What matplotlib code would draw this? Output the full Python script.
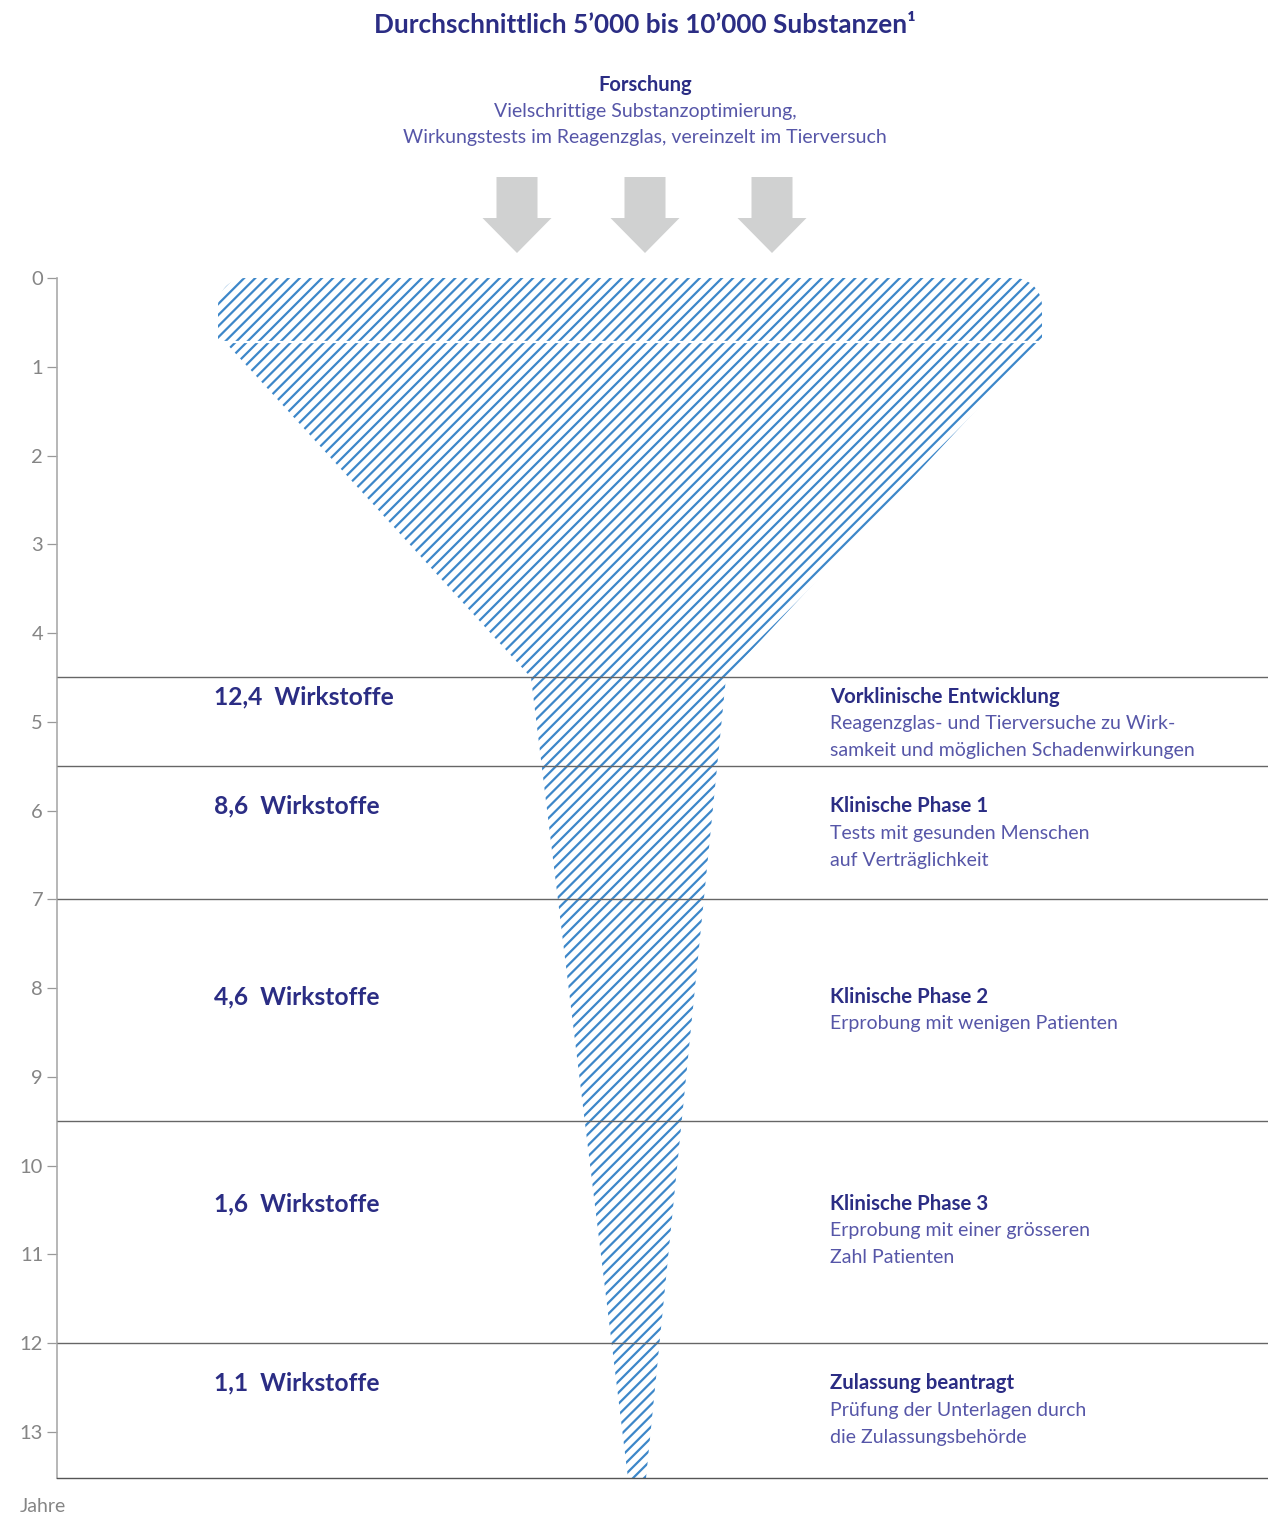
import numpy as np
import matplotlib.pyplot as plt
from matplotlib.patches import Polygon

plt.rcParams['font.family'] = ['Lato', 'DejaVu Sans']
plt.rcParams['hatch.linewidth'] = 1.6

# funnel outline (x in width units, y in years)
top_left, top_right = 218, 1042
top_end = 0.72
corner_r = 28
funnel_years = [0.72, 4.5, 13.52]
funnel_left = [225, 531, 628]
funnel_right = [1040, 726, 646]

phase_bounds = [4.5, 5.5, 7, 9.5, 12]
counts = ['12,4', '8,6', '4,6', '1,6', '1,1']
label_years = [4.72, 5.95, 8.1, 10.43, 12.45]
phase_titles = ['Vorklinische Entwicklung', 'Klinische Phase 1', 'Klinische Phase 2',
                'Klinische Phase 3', 'Zulassung beantragt']
phase_texts = [['Reagenzglas- und Tierversuche zu Wirk-', 'samkeit und möglichen Schadenwirkungen'],
               ['Tests mit gesunden Menschen', 'auf Verträglichkeit'],
               ['Erprobung mit wenigen Patienten'],
               ['Erprobung mit einer grösseren', 'Zahl Patienten'],
               ['Prüfung der Unterlagen durch', 'die Zulassungsbehörde']]
arrow_x = [517, 645, 772]

navy = '#2b2d84'
light = '#5656a8'
blue = '#3d87c9'
W, H = 1268, 1515

fig = plt.figure(figsize=(W / 100, H / 100), dpi=100)
ax = fig.add_axes([57 / W, (H - 1478) / H, (W - 57) / W, 1200 / H])
ax.set_xlim(57, W)
ax.set_ylim(13.518, 0)

# top rounded block
ry = corner_r / 88.77
t = np.linspace(0, np.pi / 2, 20)
xs = [top_left] + list(top_left + corner_r - corner_r * np.cos(t)) + \
     list(top_right - corner_r + corner_r * np.sin(t)) + [top_right]
ys = [top_end] + list(ry - ry * np.sin(t)) + list(ry - ry * np.cos(t)) + [top_end]
ax.add_patch(Polygon(np.column_stack([xs, ys]), closed=True, facecolor='none',
                     edgecolor=blue, lw=0, hatch='///'))

# funnel body
pts = list(zip(funnel_left, funnel_years)) + list(zip(funnel_right, funnel_years))[::-1]
ax.add_patch(Polygon(pts, closed=True, facecolor='none', edgecolor=blue, lw=0, hatch='///'))
ax.hlines(top_end, top_left - 2, top_right + 2, color='white', lw=1.6, zorder=3)

ax.hlines(phase_bounds, 57, W, color='#666666', lw=1.0, zorder=4)

for c, y in zip(counts, label_years):
    ax.text(214, y, c + '  Wirkstoffe', fontsize=17.7, fontweight='bold', color=navy,
            ha='left', va='center')

for title, lines, y in zip(phase_titles, phase_texts, label_years):
    ax.text(830, y, title, fontsize=14.7, fontweight='bold', color=navy, ha='left', va='center')
    for k, line in enumerate(lines):
        ax.annotate(line, (830, y), xytext=(0, -19.4 * (k + 1)), textcoords='offset points',
                    fontsize=14, color=light, ha='left', va='center')

ax.set_yticks(range(14))
ax.set_xticks([])
ax.tick_params(axis='y', length=7, width=0.9, color='#999999', labelcolor='#858585',
               labelsize=14.5, pad=3)
for s in ['top', 'right']:
    ax.spines[s].set_visible(False)
ax.spines['left'].set_color('#aaaaaa')
ax.spines['left'].set_linewidth(1.2)
ax.spines['bottom'].set_color('#555555')
ax.spines['bottom'].set_linewidth(1.0)

fig.text(20 / W, 1 - 1507 / H, 'Jahre', fontsize=14, color='#858585',
         ha='left', va='center')

# header
hx = fig.add_axes([0, (H - 278) / H, 1, 278 / H])
hx.set_xlim(0, W)
hx.set_ylim(278, 0)
hx.axis('off')
hx.text(645, 25, 'Durchschnittlich 5’000 bis 10’000 Substanzen¹', fontsize=18.8, fontweight='bold',
        color=navy, ha='center', va='center')
hx.text(645, 85, 'Forschung', fontsize=14.5, fontweight='bold', color=navy, ha='center', va='center')
hx.text(645, 111, 'Vielschrittige Substanzoptimierung,', fontsize=14, color=light,
        ha='center', va='center')
hx.text(645, 138, 'Wirkungstests im Reagenzglas, vereinzelt im Tierversuch', fontsize=14,
        color=light, ha='center', va='center')
for cx in arrow_x:
    arrow = [(cx - 20.5, 177), (cx + 20.5, 177), (cx + 20.5, 218), (cx + 34.5, 218),
             (cx, 253), (cx - 34.5, 218), (cx - 20.5, 218)]
    hx.add_patch(Polygon(arrow, closed=True, facecolor='#d0d1d1', edgecolor='none'))

fig.savefig('out.png', dpi=100)
